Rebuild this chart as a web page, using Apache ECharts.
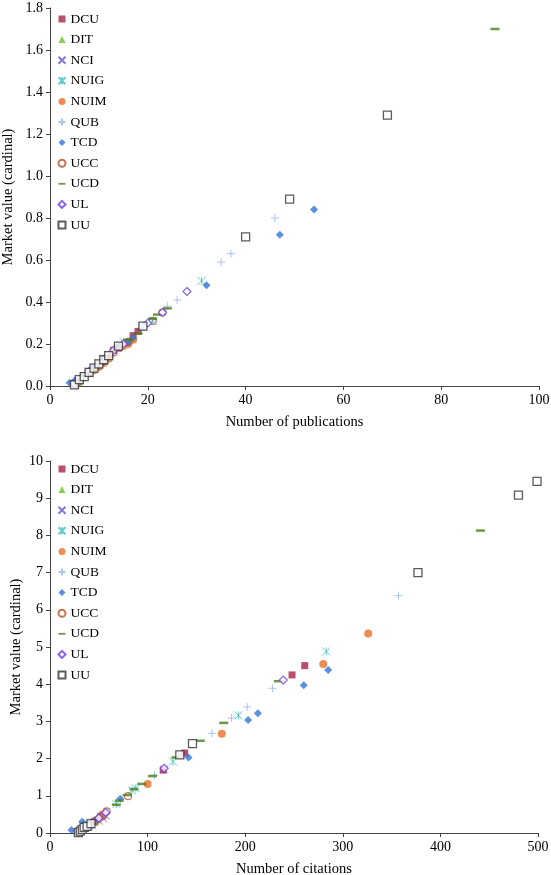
<!DOCTYPE html>
<html><head><meta charset="utf-8">
<script src="https://cdn.jsdelivr.net/npm/echarts@6/dist/echarts.min.js"></script>
<style>html,body{margin:0;padding:0;background:#fff}#c{width:551px;height:875px}</style>
</head><body><div id="c"></div>
<script>
// ---- data ----
const seriesNames = ['DCU','DIT','NCI','NUIG','NUIM','QUB','TCD','UCC','UCD','UL','UU'];

// Top chart: [number of publications, market value]
const pubDCU  = [[5,0.01],[8,0.06],[11,0.12],[13,0.17],[14,0.18],[17,0.24],[18,0.26]];
const pubDIT  = [[5,0.005],[6,0.02],[7,0.04],[9,0.08],[10,0.10],[12,0.14]];
const pubNCI  = [[5,0.01],[6,0.03],[7,0.05],[8,0.07],[9,0.09],[10,0.11],[12,0.15]];
const pubNUIG = [[5,0.01],[8,0.06],[11,0.13],[15,0.21],[19,0.28],[21,0.31],[31,0.50]];
const pubNUIM = [[5,0.005],[9,0.075],[10,0.09],[11,0.11],[12,0.13],[15,0.19],[16,0.20],[17,0.22]];
const pubQUB  = [[5,0.01],[7,0.04],[10,0.10],[13,0.16],[19,0.28],[24,0.38],[26,0.41],[35,0.59],[37,0.63],[46,0.80]];
const pubTCD  = [[4,0.015],[5,0.025],[9,0.09],[11,0.13],[14,0.19],[16,0.21],[17,0.23],[32,0.48],[47,0.72],[54,0.84]];
const pubUCC  = [[6,0.02],[10,0.10],[13,0.16],[16,0.21],[21,0.31],[23,0.35]];
const pubUCD  = [[5,0.01],[7,0.05],[9,0.08],[12,0.14],[14,0.19],[16,0.22],[18,0.25],[21,0.32],[22,0.34],[24,0.37],[91,1.70]];
const pubUL   = [[5,0.01],[8,0.07],[11,0.12],[13,0.17],[15,0.20],[20,0.30],[23,0.35],[28,0.45]];
const pubUU   = [[5,0.005],[6,0.03],[7,0.045],[8,0.065],[9,0.085],[10,0.105],[11,0.125],[12,0.145],[14,0.19],[19,0.285],[40,0.71],[49,0.89],[69,1.29]];

// Bottom chart: [number of citations, market value]
const citDCU  = [[30,0.02],[40,0.20],[45,0.30],[52,0.45],[116,1.69],[138,2.15],[248,4.25],[261,4.50]];
const citDIT  = [[30,0.03],[33,0.08],[38,0.15],[42,0.22],[47,0.30],[50,0.38]];
const citNCI  = [[32,0.05],[36,0.12],[40,0.18],[45,0.28],[50,0.32],[55,0.38],[58,0.45],[117,1.72],[133,2.10]];
const citNUIG = [[33,0.08],[42,0.22],[55,0.50],[68,0.78],[84,1.15],[88,1.20],[126,1.92],[193,3.16],[283,4.88]];
const citNUIM = [[30,0.02],[38,0.15],[48,0.35],[54,0.50],[100,1.32],[176,2.67],[280,4.54],[326,5.36]];
const citQUB  = [[30,0.03],[35,0.12],[44,0.25],[107,1.56],[166,2.68],[186,3.09],[202,3.39],[228,3.89],[357,6.38]];
const citTCD  = [[22,0.08],[33,0.30],[40,0.22],[48,0.38],[72,0.92],[142,2.03],[203,3.04],[213,3.22],[260,3.97],[285,4.38]];
const citUCC  = [[30,0.02],[38,0.18],[46,0.32],[54,0.45],[58,0.58],[80,0.99]];
const citUCD  = [[29,0.01],[35,0.10],[43,0.25],[68,0.76],[71,0.87],[79,1.02],[86,1.18],[94,1.32],[105,1.53],[129,2.03],[154,2.48],[178,2.96],[234,4.08],[441,8.13]];
const citUL   = [[30,0.03],[40,0.20],[50,0.40],[57,0.55],[117,1.74],[239,4.11]];
const citUU   = [[29,0.01],[31,0.05],[33,0.10],[35,0.15],[38,0.18],[42,0.25],[133,2.10],[146,2.40],[377,7.00],[480,9.08],[499,9.45]];

const pubData = [pubDCU,pubDIT,pubNCI,pubNUIG,pubNUIM,pubQUB,pubTCD,pubUCC,pubUCD,pubUL,pubUU];
const citData = [citDCU,citDIT,citNCI,citNUIG,citNUIM,citQUB,citTCD,citUCC,citUCD,citUL,citUU];

// ---- styles ----
const styles = {
  DCU:  {symbol:'rect', size:7, itemStyle:{color:'#A8234A'}},
  DIT:  {symbol:'triangle', size:7, itemStyle:{color:'#6CBF2C'}},
  NCI:  {symbol:'path://M0,0L10,10M10,0L0,10', size:7, itemStyle:{color:'none', borderColor:'#6A55D8', borderWidth:1}},
  NUIG: {symbol:'path://M0,0L10,10M10,0L0,10M5,0L5,10', size:8, itemStyle:{color:'none', borderColor:'#3FC0C0', borderWidth:1}},
  NUIM: {symbol:'circle', size:8, itemStyle:{color:'#E8702A'}},
  QUB:  {symbol:'path://M5,0L5,10M0,5L10,5', size:8, itemStyle:{color:'none', borderColor:'#92B8F2', borderWidth:1}},
  TCD:  {symbol:'diamond', size:8, itemStyle:{color:'#2F74D8'}},
  UCC:  {symbol:'circle', size:7, itemStyle:{color:'rgba(255,255,255,0)', borderColor:'#B4512A', borderWidth:1.2}},
  UCD:  {symbol:'rect', size:[9,2.5], itemStyle:{color:'#4A7E1C'}},
  UL:   {symbol:'diamond', size:8, itemStyle:{color:'#ffffff', borderColor:'#6A3BF0', borderWidth:1.2}},
  UU:   {symbol:'rect', size:8, itemStyle:{color:'#ffffff', borderColor:'#333333', borderWidth:1.3}}
};
const legendIcons = {
  DCU:'rect', DIT:'triangle', NCI:'path://M0,0L10,10M10,0L0,10', NUIG:'path://M0,0L10,10M10,0L0,10M5,0L5,10',
  NUIM:'circle', QUB:'path://M5,0L5,10M0,5L10,5', TCD:'diamond', UCC:'circle',
  UCD:'path://M0,0L10,0L10,2.5L0,2.5Z', UL:'diamond', UU:'rect'
};

const font = 'Liberation Serif, Times New Roman, serif';
const axisLine = {show:true, lineStyle:{color:'#444', width:1}};
const axisTick = {show:true, length:4, inside:false, lineStyle:{color:'#444'}};
const axisLabel = {color:'#000', fontFamily:font, fontSize:14, margin:7};
const nameStyle = {color:'#000', fontFamily:font, fontSize:14.5};

const series = [];
seriesNames.forEach((n,i)=>{
  const s = styles[n];
  series.push({name:n, type:'scatter', xAxisIndex:0, yAxisIndex:0, symbol:s.symbol, symbolSize:s.size,
    itemStyle:s.itemStyle, data:pubData[i], emphasis:{disabled:true}});
  series.push({name:n, type:'scatter', xAxisIndex:1, yAxisIndex:1, symbol:s.symbol, symbolSize:s.size,
    itemStyle:s.itemStyle, data:citData[i], emphasis:{disabled:true}});
});

const legendData = seriesNames.map(n=>({name:n, icon:legendIcons[n]}));
const legendBase = {orient:'vertical', left:56, itemWidth:7, itemHeight:7, itemGap:6.6, padding:0,
  textStyle:{color:'#000', fontFamily:font, fontSize:13.5}, data:legendData, selectedMode:false};

const chart = echarts.init(document.getElementById('c'), null, {renderer:'canvas'});
chart.setOption({
  animation:false,
  backgroundColor:'#fff',
  legend:[Object.assign({}, legendBase, {top:12}), Object.assign({}, legendBase, {top:462})],
  grid:[
    {left:50, right:12, top:8, height:378, containLabel:false, outerBoundsMode:'none'},
    {left:50, right:13, top:461, height:372, containLabel:false, outerBoundsMode:'none'}
  ],
  xAxis:[
    {gridIndex:0, type:'value', min:0, max:100, interval:20, splitLine:{show:false}, axisLine, axisTick, axisLabel,
     name:'Number of publications', nameLocation:'middle', nameGap:29, nameTextStyle:nameStyle},
    {gridIndex:1, type:'value', min:0, max:500, interval:100, splitLine:{show:false}, axisLine, axisTick, axisLabel,
     name:'Number of citations', nameLocation:'middle', nameGap:29, nameTextStyle:nameStyle}
  ],
  yAxis:[
    {gridIndex:0, type:'value', min:0, max:1.8, interval:0.2, splitLine:{show:false}, axisLine, axisTick,
     axisLabel:Object.assign({}, axisLabel, {formatter:v=>v.toFixed(1)}),
     name:'Market value (cardinal)', nameLocation:'middle', nameGap:34, nameMoveOverlap:false, nameTextStyle:nameStyle},
    {gridIndex:1, type:'value', min:0, max:10, interval:1, splitLine:{show:false}, axisLine, axisTick, axisLabel,
     name:'Market value (cardinal)', nameLocation:'middle', nameGap:26, nameMoveOverlap:false, nameTextStyle:nameStyle}
  ],
  series
});
</script></body></html>
